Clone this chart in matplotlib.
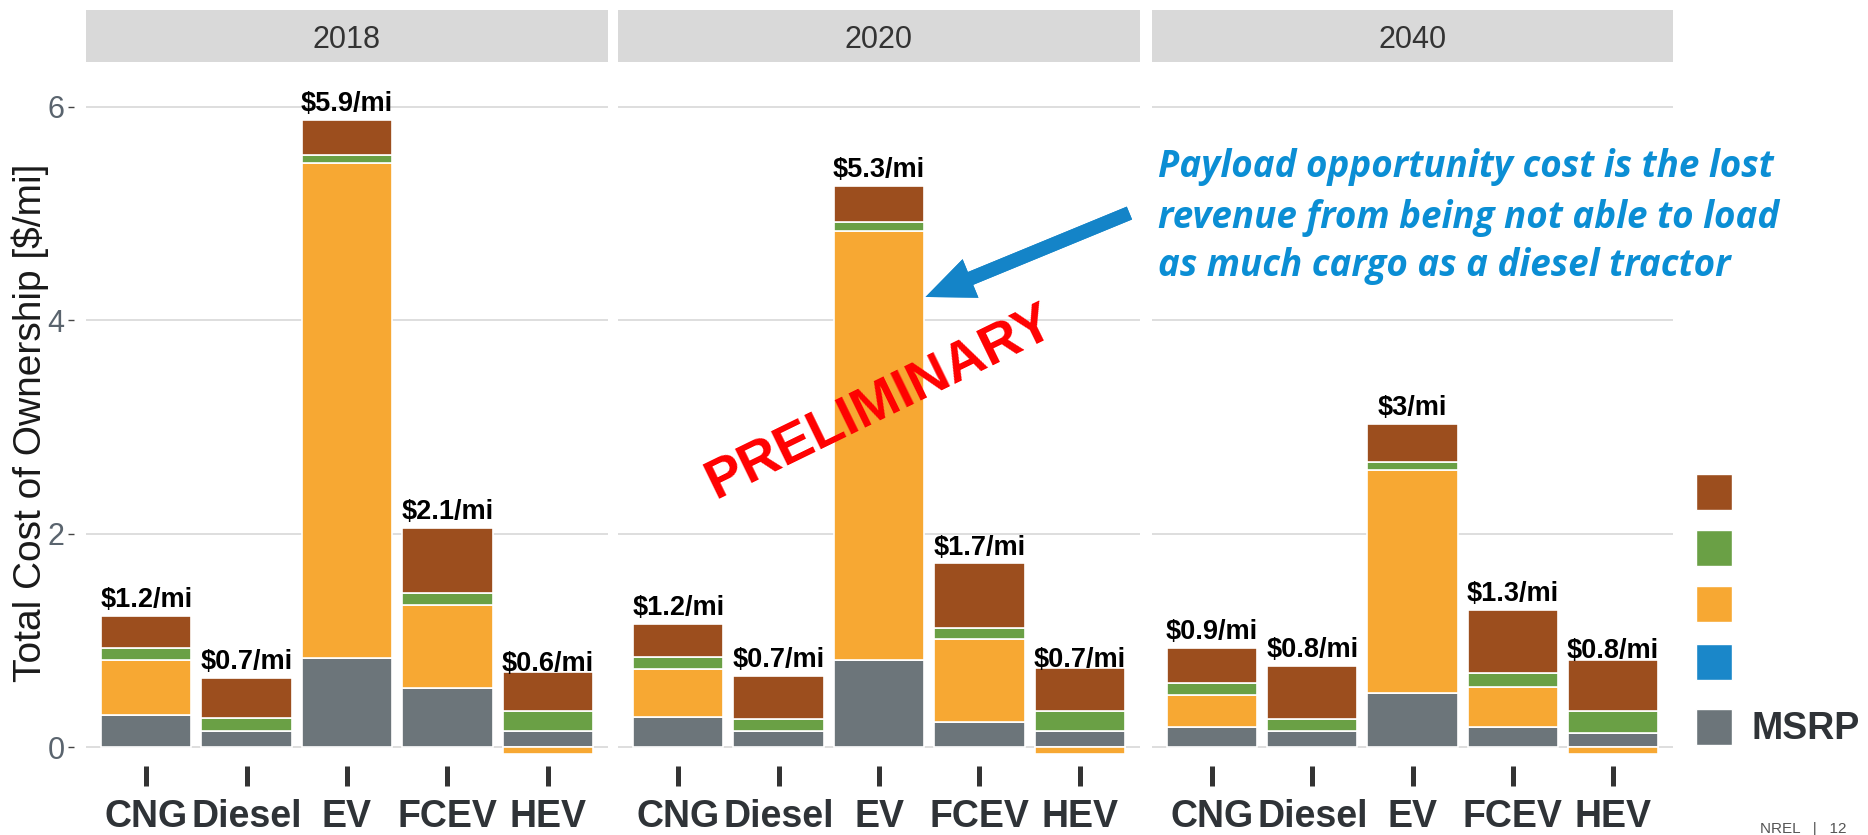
import numpy as np
import matplotlib
matplotlib.use("Agg")
import matplotlib.pyplot as plt
from matplotlib.patches import Rectangle

plt.rcParams['font.family'] = ['Liberation Sans', 'DejaVu Sans']

years = ['2018', '2020', '2040']
powertrains = ['CNG', 'Diesel', 'EV', 'FCEV', 'HEV']

# segment heights per year (rows) and powertrain (columns), $/mi
msrp = [[0.30, 0.15, 0.83, 0.55, 0.15],
        [0.28, 0.15, 0.82, 0.23, 0.15],
        [0.19, 0.15, 0.51, 0.19, 0.13]]
other = [[0.0, 0.0, 0.0, 0.0, 0.0],
         [0.0, 0.0, 0.0, 0.0, 0.0],
         [0.0, 0.0, 0.0, 0.0, 0.0]]
payload = [[0.52, 0.0, 4.64, 0.78, -0.07],
           [0.45, 0.0, 4.02, 0.78, -0.07],
           [0.30, 0.0, 2.09, 0.37, -0.07]]
green = [[0.11, 0.12, 0.08, 0.11, 0.19],
         [0.11, 0.11, 0.08, 0.11, 0.19],
         [0.11, 0.11, 0.07, 0.13, 0.21]]
brown = [[0.30, 0.38, 0.33, 0.61, 0.36],
         [0.31, 0.41, 0.34, 0.60, 0.40],
         [0.33, 0.50, 0.36, 0.59, 0.48]]
bar_labels = [['$1.2/mi', '$0.7/mi', '$5.9/mi', '$2.1/mi', '$0.6/mi'],
              ['$1.2/mi', '$0.7/mi', '$5.3/mi', '$1.7/mi', '$0.7/mi'],
              ['$0.9/mi', '$0.8/mi', '$3/mi', '$1.3/mi', '$0.8/mi']]

layers = [msrp, other, payload, green, brown]
colors = ['#6C757A', '#1A87C9', '#F7A833', '#6AA045', '#9C4E1E']

W, H = 1868, 835
fig = plt.figure(figsize=(W / 100, H / 100), dpi=100)


def box(x0, y0, x1, y1):
    return [x0 / W, 1 - y1 / H, (x1 - x0) / W, (y1 - y0) / H]


panel_x = [(86, 608), (618, 1140), (1152, 1673)]
x = np.arange(len(powertrains))

for i, yr in enumerate(years):
    x0, x1 = panel_x[i]
    ax = fig.add_axes(box(x0, 62, x1, 758))
    pos = np.zeros(len(x))
    neg = np.zeros(len(x))
    for vals, c in zip(layers, colors):
        v = np.array(vals[i])
        base = np.where(v >= 0, pos, neg)
        ax.bar(x, v, 0.9, bottom=base, color=c, edgecolor='white', linewidth=1.2, zorder=2)
        pos = pos + np.where(v >= 0, v, 0)
        neg = neg + np.where(v < 0, v, 0)
    total = pos + neg
    for xi, t, lab in zip(x, total, bar_labels[i]):
        ax.annotate(lab, (xi, t), xytext=(0, 11.5), textcoords='offset points',
                    ha='center', va='center', fontsize=19.5, fontweight='bold', color='black')

    ax.set_xlim(-0.6, 4.6)
    ax.set_ylim(-0.103, 6.42)
    ax.set_yticks([0, 2, 4, 6])
    ax.yaxis.grid(True, color='#DEDEDE', linewidth=1.4, zorder=0)
    ax.set_axisbelow(True)
    for s in ax.spines.values():
        s.set_visible(False)
    ax.spines['bottom'].set_position(('outward', 6))
    ax.spines['left'].set_position(('outward', 9))
    ax.set_xticks(x)
    ax.set_xticklabels(powertrains, fontsize=27, fontweight='bold', color='#2F3337')
    ax.tick_params(axis='x', length=14.4, width=3.6, color='#333333', pad=9)
    if i == 0:
        ax.set_yticklabels(['0', '2', '4', '6'], fontsize=22, color='#5A646E')
        ax.tick_params(axis='y', length=4.5, width=1, color='#444444', pad=2)
    else:
        ax.set_yticklabels([])
        ax.tick_params(axis='y', length=0)

    sax = fig.add_axes(box(x0, 10, x1, 62))
    sax.set_facecolor('#D9D9D9')
    sax.set_xticks([])
    sax.set_yticks([])
    for s in sax.spines.values():
        s.set_visible(False)
    sax.text(0.5, 0.42, yr, ha='center', va='center', fontsize=22, color='#333333',
             transform=sax.transAxes)

fig.text(30 / W, 1 - 423 / H, 'Total Cost of Ownership [$/mi]', rotation=90,
         ha='center', va='center', fontsize=28, color='#1A1A1A')

# legend keys, top to bottom
key_y = [492, 548, 604, 662, 727]
for ky, c in zip(key_y, colors[::-1]):
    fig.add_artist(Rectangle((1696 / W, 1 - (ky + 18) / H), 36 / W, 36 / H,
                             transform=fig.transFigure, facecolor=c,
                             edgecolor='white', linewidth=1))
fig.text(1751 / W, 1 - 729 / H, 'MSRP', ha='left', va='center', fontsize=27,
         fontweight='bold', color='#2F3337')

# annotation
note = ['Payload opportunity cost is the lost',
        'revenue from being not able to load',
        'as much cargo as a diesel tractor']
for ny, line in zip([167, 218, 266], note):
    fig.text(1158 / W, 1 - ny / H, line, ha='left', va='center', fontsize=26.5,
             fontweight='bold', style='italic', family=['Open Sans', 'DejaVu Sans'],
             color='#0B8ED4')

fig.add_artist(plt.annotate('', xy=(923 / W, 1 - 298 / H), xytext=(1132 / W, 1 - 212 / H),
                            xycoords='figure fraction', textcoords='figure fraction',
                            arrowprops=dict(arrowstyle='simple,head_length=1.4,head_width=1.2,tail_width=0.4',
                                            mutation_scale=25, color='#1484C8', linewidth=0)))

fig.text(880 / W, 1 - 403 / H, 'PRELIMINARY', rotation=26, ha='center', va='center',
         fontsize=40, fontweight='bold', color='#FF0000')

fig.text(1760 / W, 1 - 829 / H, 'NREL   |   12', ha='left', va='center', fontsize=11,
         color='#555555')

fig.savefig('out.png', dpi=100)
